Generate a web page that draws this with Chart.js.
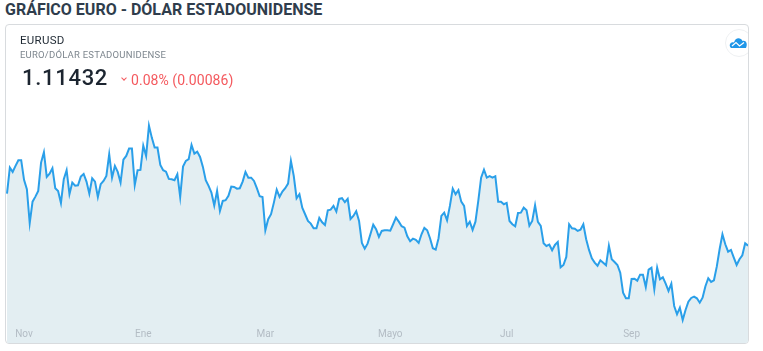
<!DOCTYPE html>
<html>
<head>
<meta charset="utf-8">
<title>EURUSD</title>
<script src="https://cdn.jsdelivr.net/npm/chart.js@4"></script>
<style>
  html, body { margin: 0; padding: 0; background: #fff; }
  body { width: 763px; height: 351px; position: relative; overflow: hidden; font-family: Roboto, sans-serif; }
  .page-title { position: absolute; left: 5px; top: 0; font-size: 16px; line-height: 19px; font-weight: 700; color: #2f3d4c; white-space: nowrap; }
  .card { position: absolute; left: 5px; top: 24px; width: 742px; height: 318px; border: 1px solid #d8dbde; border-radius: 4px; overflow: hidden; }
  .chart-box { position: absolute; left: 0; top: 0; width: 742px; height: 318px; }
  .symbol { position: absolute; left: 14px; top: 8px; font-size: 11.5px; line-height: 14px; color: #1f2933; letter-spacing: 0.3px; }
  .symbol-name { position: absolute; left: 14px; top: 24px; font-size: 9.5px; line-height: 12px; color: #7d868e; letter-spacing: 0.22px; }
  .price { position: absolute; left: 16px; top: 39px; font-size: 22px; line-height: 28px; font-weight: 500; color: #1c2530; letter-spacing: 0.7px; }
  .change { position: absolute; left: 125px; top: 46px; font-size: 14px; line-height: 18px; color: #f4595e; white-space: nowrap; letter-spacing: 0.05px; }
  .caret { position: absolute; left: 116px; top: 51px; width: 3px; height: 3px; border-right: 1px solid #f4595e; border-bottom: 1px solid #f4595e; transform: rotate(45deg); }
  .logo { position: absolute; left: 719px; top: 4px; width: 26px; height: 26px; background: #fff; border: 1px solid #eef0f2; border-radius: 50%; }
</style>
</head>
<body>
<div class="page-title">GRÁFICO EURO - DÓLAR ESTADOUNIDENSE</div>
<div class="card">
  <div class="chart-box"><canvas id="priceChart" width="742" height="318"></canvas></div>
  <div class="symbol">EURUSD</div>
  <div class="symbol-name">EURO/DÓLAR ESTADOUNIDENSE</div>
  <div class="price">1.11432</div>
  <div class="caret"></div>
  <div class="change">0.08% (0.00086)</div>
  <div class="logo">
    <svg width="26" height="26" viewBox="0 0 26 26">
      <path d="M5 18 C2 15 5 11 8 12.5 C9 7 15 7 16.5 11 C20 10 22 14 20 18 Z" fill="#1f96e8"/>
      <path d="M6 16 L10 12.5 L13.5 16 L18 12.5" fill="none" stroke="#fff" stroke-width="1.2"/>
    </svg>
  </div>
</div>

<script>
// Closing prices, oldest first
const prices = [
  1.13072, 1.13917, 1.13778, 1.13973, 1.14158, 1.14158, 1.13518, 1.13215, 1.1211, 1.12812,
  1.12975, 1.1316, 1.1408, 1.14418, 1.13615, 1.13722, 1.13898, 1.13248, 1.1316, 1.1277,
  1.1354, 1.13833, 1.13053, 1.1343, 1.13332, 1.13345, 1.13625, 1.13713, 1.13462, 1.13072,
  1.13573, 1.13462, 1.12965, 1.13378, 1.13485, 1.13648, 1.14353, 1.13592, 1.13973, 1.13778,
  1.1343, 1.14177, 1.14298, 1.14535, 1.14535, 1.13355, 1.13833, 1.13843, 1.14632, 1.14298,
  1.15282, 1.14892, 1.14567, 1.14567, 1.14005, 1.13833, 1.13787, 1.1355, 1.1354, 1.13508,
  1.13703, 1.12965, 1.1395, 1.14135, 1.1419,
  1.14655, 1.14372, 1.14437, 1.14265, 1.1394, 1.13508, 1.13323, 1.13105, 1.12682, 1.1316,
  1.1251, 1.12835, 1.12858, 1.12998, 1.133, 1.1329, 1.13235, 1.13248, 1.13462, 1.13778,
  1.13592, 1.13592, 1.13485, 1.13248, 1.12988, 1.12965, 1.11883, 1.1224, 1.12403, 1.1278,
  1.13202, 1.12965, 1.13137, 1.13248, 1.13397, 1.14135, 1.13648, 1.12923, 1.13053, 1.12617,
  1.12403, 1.12185, 1.12097, 1.11948, 1.11948, 1.12283, 1.12143, 1.12055, 1.12533, 1.12552,
  1.12673, 1.12487, 1.129, 1.12923, 1.12793, 1.129, 1.1225, 1.12348, 1.125, 1.12185,
  1.1147, 1.11285, 1.11447, 1.11753, 1.12065, 1.11915, 1.11665,
  1.1186, 1.11883, 1.11883, 1.1187, 1.12078, 1.12292, 1.12162, 1.12013, 1.11967, 1.11688,
  1.11525, 1.1161, 1.11568, 1.1147, 1.11753, 1.11958, 1.11883, 1.11623, 1.11298, 1.11252,
  1.11623, 1.12348, 1.12455, 1.12208, 1.12673, 1.13235, 1.13053, 1.13183, 1.12812, 1.12673,
  1.12023, 1.12162, 1.11893, 1.12162, 1.12835, 1.13592, 1.13852, 1.13592, 1.13638, 1.13592,
  1.13638, 1.12812, 1.12812, 1.12728, 1.1277, 1.12185, 1.12078, 1.12013, 1.12445, 1.12455,
  1.12617, 1.12533, 1.12032, 1.12185, 1.12695, 1.12153, 1.12023, 1.1146, 1.11373, 1.11415,
  1.11233, 1.11405, 1.11503, 1.1068, 1.10755, 1.11015, 1.12078,
  1.11948, 1.11935, 1.1186, 1.11902, 1.12078, 1.1159, 1.11243, 1.10973, 1.1083, 1.10732,
  1.10908, 1.1083, 1.10745, 1.11382, 1.1094, 1.10853, 1.10755, 1.10505, 1.09855, 1.09673,
  1.09673, 1.103, 1.1031, 1.10245, 1.1044, 1.1044, 1.1004, 1.10602, 1.10667, 1.09965,
  1.10667, 1.1029, 1.10355, 1.10147, 1.0991, 1.10147, 1.09423, 1.09153, 1.09367, 1.08968,
  1.09293, 1.09562, 1.09683, 1.09725, 1.09673, 1.0953, 1.09692, 1.10063, 1.10323, 1.10203,
  1.10258, 1.107, 1.11265, 1.11753, 1.11428, 1.11187, 1.11243, 1.10992, 1.10755, 1.1094,
  1.1107, 1.1146, 1.11382
];

// Month labels and the session they sit under
const monthNames = ['Nov', 'Ene', 'Mar', 'Mayo', 'Jul', 'Sep'];
const monthStarts = [6, 48, 91, 135, 176, 220];

const priceMin = 1.0822;
const priceMax = 1.1855;

const labels = prices.map((p, i) => {
  const m = monthStarts.indexOf(i);
  return m >= 0 ? monthNames[m] : '';
});

const ctx = document.getElementById('priceChart').getContext('2d');
new Chart(ctx, {
  type: 'line',
  data: {
    labels: labels,
    datasets: [{
      label: 'EURUSD',
      data: prices,
      borderColor: '#2a9fe9',
      borderWidth: 2,
      backgroundColor: '#e3eef2',
      fill: 'start',
      pointRadius: 0,
      tension: 0
    }]
  },
  options: {
    responsive: false,
    animation: false,
    layout: { padding: { left: 1 } },
    plugins: {
      legend: { display: false },
      tooltip: { enabled: false }
    },
    scales: {
      x: {
        border: { display: false },
        grid: { display: false, drawTicks: false },
        afterFit: function(scale) {
          // labels sit inside the plot, so the axis takes no room
          scale.height = 0;
          scale.paddingLeft = 0;
          scale.paddingRight = 0;
        },
        ticks: {
          z: 1,
          mirror: true,
          autoSkip: false,
          maxRotation: 0,
          padding: 3,
          color: '#b3bcc4',
          font: { family: 'Roboto', size: 10 }
        }
      },
      y: {
        display: false,
        min: priceMin,
        max: priceMax
      }
    }
  }
});
</script>
</body>
</html>
